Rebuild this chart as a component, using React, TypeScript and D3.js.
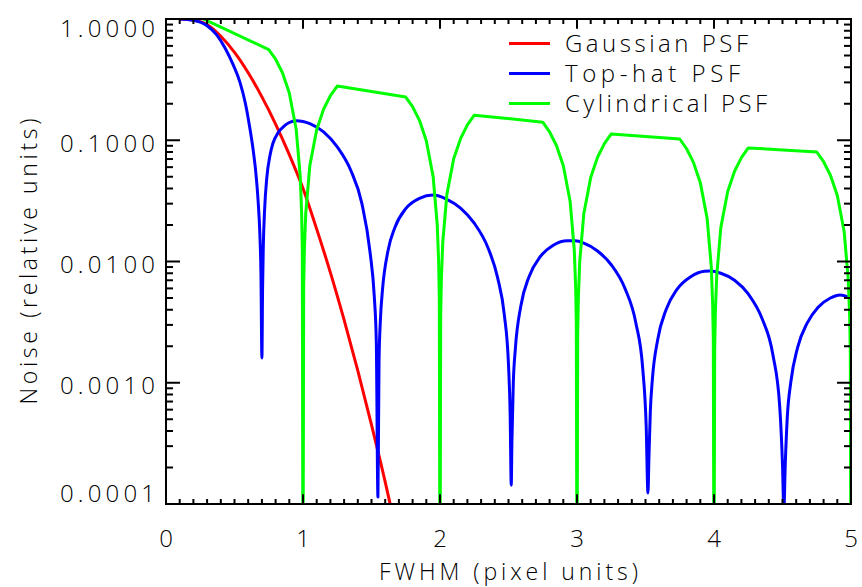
import React from 'react';
import * as d3 from 'd3';

const W = 862;
const H = 587;

const xTicks = [0, 1, 2, 3, 4, 5];
const xTickLabels = ['0', '1', '2', '3', '4', '5'];
const yTicks = [0.0001, 0.001, 0.01, 0.1, 1];
const yTickLabels = ['0.0001', '0.0010', '0.0100', '0.1000', '1.0000'];

const seriesNames = ['Gaussian PSF', 'Top-hat PSF', 'Cylindrical PSF'];
const seriesColors = ['#ff0000', '#0000ff', '#00ff00'];

const xTitle = 'FWHM (pixel units)';
const yTitle = 'Noise (relative units)';

const gaussian: [number, number][] = [
  [0.1, 1.0], [0.2, 0.98], [0.3, 0.9], [0.4, 0.72], [0.5, 0.53], [0.6, 0.36],
  [0.7, 0.228], [0.8, 0.136], [0.9, 0.076], [1.0, 0.04], [1.1, 0.0185],
  [1.2, 0.0081], [1.3, 0.0033], [1.4, 0.00126], [1.5, 0.00045], [1.6, 0.000152],
  [1.65, 0.000085],
];

const topHat: [number, number][] = [
  [0.10, 1.0], [0.20, 0.975], [0.30, 0.88], [0.37, 0.74], [0.43, 0.58], [0.49, 0.42],
  [0.54, 0.30], [0.58, 0.20], [0.61, 0.13], [0.635, 0.085], [0.655, 0.055],
  [0.672, 0.032], [0.685, 0.017], [0.693, 0.008], [0.70, 0.0016],
  [0.705, 0.006], [0.71, 0.013], [0.72, 0.027], [0.735, 0.048], [0.76, 0.076],
  [0.78, 0.094], [0.82, 0.116], [0.86, 0.130], [0.90, 0.140], [0.95, 0.145],
  [1.00, 0.143], [1.05, 0.137], [1.15, 0.117], [1.25, 0.088], [1.35, 0.056],
  [1.43, 0.030], [1.49, 0.0118], [1.52, 0.0052], [1.535, 0.0022], [1.547, 0.000114],
  [1.555, 0.0015], [1.565, 0.0033], [1.58, 0.0058], [1.62, 0.0122], [1.67, 0.019],
  [1.75, 0.0273], [1.85, 0.0332], [1.95, 0.0353], [2.05, 0.0326], [2.15, 0.0276],
  [2.25, 0.0207], [2.35, 0.013], [2.42, 0.0074], [2.47, 0.0036], [2.50, 0.0014],
  [2.512, 0.00056], [2.52, 0.000143],
  [2.525, 0.00033], [2.535, 0.00099], [2.55, 0.0019], [2.59, 0.0043], [2.65, 0.0075],
  [2.73, 0.0109], [2.83, 0.0137], [2.93, 0.0148], [2.985, 0.0148], [3.05, 0.0142],
  [3.15, 0.0122], [3.25, 0.0094], [3.35, 0.006], [3.43, 0.0031], [3.48, 0.0013],
  [3.505, 0.00044], [3.518, 0.000123],
  [3.525, 0.00024], [3.535, 0.00057], [3.55, 0.00106], [3.59, 0.0023], [3.65, 0.004],
  [3.73, 0.0059], [3.83, 0.0075], [3.93, 0.0083], [3.97, 0.00835], [4.05, 0.008],
  [4.15, 0.007], [4.25, 0.0054], [4.35, 0.0034], [4.43, 0.0017], [4.48, 0.00063],
  [4.50, 0.00021], [4.51, 0.00009],
  [4.52, 0.00021], [4.535, 0.00052], [4.56, 0.001], [4.61, 0.00195], [4.68, 0.0031],
  [4.76, 0.0042], [4.85, 0.005], [4.92, 0.0053], [5.0, 0.005],
];

const cylindrical: [number, number][] = [
  [0.25, 1.03], [0.75, 0.56],
  [0.80, 0.466], [0.85, 0.36], [0.90, 0.245], [0.95, 0.124], [0.98, 0.05], [0.99, 0.025],
  [0.995, 0.0125], [1.0, 0.00001],
  [1.005, 0.0062], [1.01, 0.0124], [1.02, 0.0249], [1.05, 0.062], [1.10, 0.122],
  [1.15, 0.18], [1.20, 0.233], [1.25, 0.28],
  [1.75, 0.227],
  [1.80, 0.189], [1.85, 0.146], [1.90, 0.099], [1.95, 0.050], [1.98, 0.020], [1.99, 0.010],
  [1.995, 0.005], [2.0, 0.00001],
  [2.005, 0.0036], [2.01, 0.0071], [2.02, 0.0143], [2.05, 0.0356], [2.10, 0.0704],
  [2.15, 0.103], [2.20, 0.134], [2.25, 0.161],
  [2.75, 0.141],
  [2.80, 0.117], [2.85, 0.0905], [2.90, 0.0616], [2.95, 0.0312], [2.98, 0.0125],
  [2.99, 0.0063], [2.995, 0.0031], [3.0, 0.00001],
  [3.005, 0.0025], [3.01, 0.005], [3.02, 0.010], [3.05, 0.0249], [3.10, 0.0492],
  [3.15, 0.0724], [3.20, 0.0937], [3.25, 0.1127],
  [3.75, 0.1024],
  [3.80, 0.0851], [3.85, 0.0657], [3.90, 0.0447], [3.95, 0.0226], [3.98, 0.0091],
  [3.99, 0.0045], [3.995, 0.0023], [4.0, 0.00001],
  [4.005, 0.0019], [4.01, 0.0038], [4.02, 0.0077], [4.05, 0.0191], [4.10, 0.0378],
  [4.15, 0.0555], [4.20, 0.0719], [4.25, 0.0865],
  [4.75, 0.080],
  [4.80, 0.0665], [4.85, 0.0514], [4.90, 0.035], [4.95, 0.0177], [4.98, 0.0071],
  [4.99, 0.0036], [4.995, 0.0018], [5.0, 0.00001],
];

const FONT = "'Open Sans', 'DejaVu Sans', sans-serif";

export default function App() {
  const left = 166, right = 851, top = 19, bottom = 504;
  const x = d3.scaleLinear().domain([0, 5]).range([left, right]);
  const y = d3.scaleLog().domain([0.0001, 1]).range([bottom, top]);

  const smooth = d3.line<[number, number]>()
    .x(d => x(d[0])).y(d => y(d[1])).curve(d3.curveMonotoneX);
  const straight = d3.line<[number, number]>()
    .x(d => x(d[0])).y(d => y(d[1]));

  const xMinor = d3.range(1, 50).filter(i => i % 10 !== 0).map(i => i / 10);
  const yMinor: number[] = [];
  for (let e = -4; e < 0; e++) {
    for (let k = 2; k <= 9; k++) yMinor.push(k * Math.pow(10, e));
  }

  const xMajorLen = 9.7, xMinorLen = 5;
  const yMajorLen = 14, yMinorLen = 7;

  const yLabelDy = (i: number) =>
    i === 0 ? -2 : i === yTicks.length - 1 ? 18 : 11.5;

  const legendRows = [43.5, 73.5, 103.5];
  const legendTextLen = [183, 175, 202];

  return (
    <svg width={W} height={H} style={{ position: 'absolute', left: 0, top: 0, display: 'block', background: '#fff' }}
      fontFamily={FONT} fontWeight={300}>
      <defs>
        <clipPath id="plotclip">
          <rect x={left} y={top} width={right - left} height={bottom - top} />
        </clipPath>
      </defs>
      <rect x={0} y={0} width={W} height={H} fill="#fff" />

      <g clipPath="url(#plotclip)" fill="none" strokeWidth={3} strokeLinejoin="round">
        <path d={smooth(gaussian) || ''} stroke={seriesColors[0]} />
        <path d={smooth(topHat) || ''} stroke={seriesColors[1]} />
        <path d={straight(cylindrical) || ''} stroke={seriesColors[2]} />
      </g>

      <g stroke="#000" strokeWidth={2} fill="none">
        <rect x={left} y={top} width={right - left} height={bottom - top} />
        {xTicks.map(t => (
          <g key={'xm' + t}>
            <line x1={x(t)} x2={x(t)} y1={bottom} y2={bottom - xMajorLen} />
            <line x1={x(t)} x2={x(t)} y1={top} y2={top + xMajorLen} />
          </g>
        ))}
        {xMinor.map(t => (
          <g key={'xn' + t}>
            <line x1={x(t)} x2={x(t)} y1={bottom} y2={bottom - xMinorLen} />
            <line x1={x(t)} x2={x(t)} y1={top} y2={top + xMinorLen} />
          </g>
        ))}
        {yTicks.map(t => (
          <g key={'ym' + t}>
            <line x1={left} x2={left + yMajorLen} y1={y(t)} y2={y(t)} />
            <line x1={right} x2={right - yMajorLen} y1={y(t)} y2={y(t)} />
          </g>
        ))}
        {yMinor.map(t => (
          <g key={'yn' + t}>
            <line x1={left} x2={left + yMinorLen} y1={y(t)} y2={y(t)} />
            <line x1={right} x2={right - yMinorLen} y1={y(t)} y2={y(t)} />
          </g>
        ))}
      </g>

      <g fontSize={24} fill="#000">
        {xTicks.map((t, i) => (
          <text key={'xl' + t} x={x(t)} y={547} textAnchor="middle">{xTickLabels[i]}</text>
        ))}
        {yTicks.map((t, i) => (
          <text key={'yl' + t} x={155} y={y(t) + yLabelDy(i)} textAnchor="end"
            textLength={95} lengthAdjust="spacing">{yTickLabels[i]}</text>
        ))}
      </g>

      <text x={(left + right) / 2} y={580} textAnchor="middle" fontSize={23}
        textLength={259} lengthAdjust="spacing">{xTitle}</text>
      <text transform={`translate(37,${(top + bottom) / 2}) rotate(-90)`} textAnchor="middle"
        fontSize={23} textLength={286} lengthAdjust="spacing">{yTitle}</text>

      <g>
        {seriesNames.map((name, i) => (
          <g key={name}>
            <line x1={509} x2={550} y1={legendRows[i]} y2={legendRows[i]}
              stroke={seriesColors[i]} strokeWidth={3} />
            <text x={565} y={legendRows[i] + 8} fontSize={24}
              textLength={legendTextLen[i]} lengthAdjust="spacing">{name}</text>
          </g>
        ))}
      </g>
    </svg>
  );
}
